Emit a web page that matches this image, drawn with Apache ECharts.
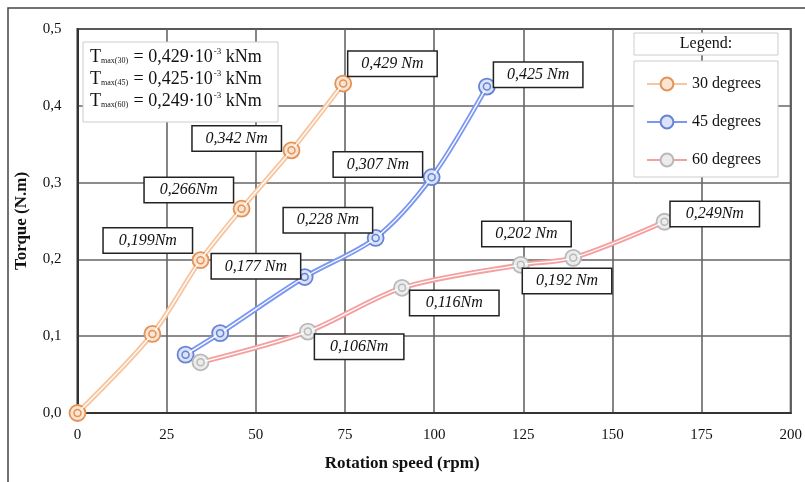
<!DOCTYPE html>
<html>
<head>
<meta charset="utf-8">
<script src="https://cdn.jsdelivr.net/npm/echarts@6/dist/echarts.min.js"></script>
<style>html,body{margin:0;padding:0;background:#fff}#c{width:805px;height:482px}</style>
</head>
<body>
<div id="c"></div>
<script>
// ---- data ----
const seriesNames = ['30 degrees', '45 degrees', '60 degrees'];
const speed30 = [0, 21, 34.5, 46, 60, 74.5];
const torque30 = [0, 0.103, 0.199, 0.266, 0.342, 0.429];
const speed45 = [30.3, 40, 63.7, 83.6, 99.3, 114.8];
const torque45 = [0.076, 0.104, 0.177, 0.228, 0.307, 0.425];
const speed60 = [34.5, 64.6, 91, 124.3, 139, 164.6];
const torque60 = [0.066, 0.106, 0.163, 0.193, 0.202, 0.249];
const labels30 = ['', '', '0,199Nm', '0,266Nm', '0,342 Nm', '0,429 Nm'];
const labels45 = ['', '', '0,177 Nm', '0,228 Nm', '0,307 Nm', '0,425 Nm'];
const labels60 = ['', '0,106Nm', '0,116Nm', '0,192 Nm', '0,202 Nm', '0,249Nm'];
const xTicks = [0, 25, 50, 75, 100, 125, 150, 175, 200];
const yTicks = [0, 0.1, 0.2, 0.3, 0.4, 0.5];
const noteSubs = ['max(30)', 'max(45)', 'max(60)'];
const noteValues = ['0,429', '0,425', '0,249'];
const legendTitle = 'Legend:';

// ---- layout / style (not data) ----
const offsets30 = [null, null, [-52, -19], [-52, -18], [-54, -11], [50, -19]];
const offsets45 = [null, null, [-48, -10], [-47, -17], [-53, -12], [52, -11]];
const offsets60 = [null, [52, 16], [53, 16], [47, 17], [-46, -23], [51, -7]];
const SERIF = '"Liberation Serif", "DejaVu Serif", serif';
const INNER = 7;

const styles = [
  {line: '#f7c6a0', ring: '#e39356', fill: '#fbe4d2'},
  {line: '#7b97f2', ring: '#6683d6', fill: '#dbe3f8'},
  {line: '#f4a0a0', ring: '#b9b9b9', fill: '#ececec'}
];

function pts(xs, ys) { return xs.map((x, i) => [x, ys[i]]); }
function labeled(xs, ys, labels, offs) {
  return xs.map((x, i) => {
    const d = {value: [x, ys[i]]};
    if (labels[i]) {
      d.label = {
        show: true, position: [INNER / 2 + offs[i][0], INNER / 2 + offs[i][1]], formatter: labels[i],
        fontFamily: SERIF, fontStyle: 'italic', fontSize: 16, color: '#111',
        backgroundColor: '#fff', borderColor: '#222', borderWidth: 1.5,
        width: 70, height: 16, lineHeight: 16, align: 'center', verticalAlign: 'middle',
        padding: [4, 9]
      };
    } else {
      d.label = {show: false};
    }
    return d;
  });
}

const groups = [
  [speed30, torque30, labels30, offsets30],
  [speed45, torque45, labels45, offsets45],
  [speed60, torque60, labels60, offsets60]
];

const series = [];
groups.forEach((g, k) => {
  const st = styles[k];
  series.push({
    name: seriesNames[k], type: 'line', smooth: 0.3, z: 2,
    data: pts(g[0], g[1]),
    symbol: 'circle', symbolSize: 16,
    lineStyle: {color: st.line, width: 5},
    itemStyle: {color: st.fill, borderColor: st.ring, borderWidth: 1.8},
    label: {show: false},
    emphasis: {disabled: true}, silent: true
  });
});
groups.forEach((g, k) => {
  const st = styles[k];
  series.push({
    name: seriesNames[k] + ' inner', type: 'line', smooth: 0.3, z: 4,
    data: labeled(g[0], g[1], g[2], g[3]),
    symbol: 'circle', symbolSize: INNER,
    lineStyle: {color: '#ffffff', width: 1.3},
    itemStyle: {color: st.fill, borderColor: st.ring, borderWidth: 1.5},
    emphasis: {disabled: true}, silent: true,
    labelLayout: {hideOverlap: false}
  });
});

function noteLine(i) {
  return '{t|T}{sub|' + noteSubs[i] + '}{t| = ' + noteValues[i] + '·10}{sup|-3}{t| kNm}';
}

const chart = echarts.init(document.getElementById('c'), null, {renderer: 'canvas'});
chart.setOption({
  animation: false,
  backgroundColor: '#fff',
  grid: {left: 77.5, right: 8, top: 29, bottom: 69, show: true, borderColor: '#333', borderWidth: 2, containLabel: false},
  xAxis: {
    type: 'value', min: xTicks[0], max: xTicks[xTicks.length - 1], interval: xTicks[1] - xTicks[0],
    name: 'Rotation speed (rpm)', nameLocation: 'middle', nameGap: 42,
    nameTextStyle: {fontFamily: SERIF, fontWeight: 'bold', fontSize: 17, color: '#111', padding: [0, 64, 0, 0]},
    axisLine: {show: true, lineStyle: {color: '#333', width: 2}},
    axisTick: {show: false},
    axisLabel: {fontFamily: SERIF, fontSize: 15, color: '#111', margin: 15},
    splitLine: {show: true, lineStyle: {color: '#666', width: 1.6}}
  },
  yAxis: {
    type: 'value', min: yTicks[0], max: yTicks[yTicks.length - 1], interval: 0.1,
    name: 'Torque (N.m)', nameLocation: 'middle', nameGap: 47,
    nameTextStyle: {fontFamily: SERIF, fontWeight: 'bold', fontSize: 17, color: '#111'},
    axisLine: {show: true, lineStyle: {color: '#333', width: 2}},
    axisTick: {show: false},
    axisLabel: {fontFamily: SERIF, fontSize: 15, color: '#111', margin: 16,
      formatter: v => v.toFixed(1).replace('.', ',')},
    splitLine: {show: true, lineStyle: {color: '#666', width: 1.6}}
  },
  legend: {
    data: seriesNames, orient: 'vertical', left: 641, top: 71, z: 10,
    itemWidth: 40, itemHeight: 16, itemGap: 22,
    textStyle: {fontFamily: SERIF, fontSize: 16, color: '#111'}
  },
  graphic: [
    {type: 'rect', z: 0, silent: true, shape: {x: 8, y: 8, width: 830, height: 520},
      style: {fill: 'none', stroke: '#444', lineWidth: 1.5}},
    {type: 'rect', z: 5, silent: true, shape: {x: 634, y: 33, width: 144, height: 22},
      style: {fill: '#fff', stroke: '#ccc', lineWidth: 1}},
    {type: 'text', z: 6, silent: true, x: 706, y: 44,
      style: {text: legendTitle, fontFamily: SERIF, fontSize: 16, fill: '#111', align: 'center', verticalAlign: 'middle'}},
    {type: 'rect', z: 5, silent: true, shape: {x: 634, y: 61, width: 144, height: 116},
      style: {fill: '#fff', stroke: '#ccc', lineWidth: 1}},
    {type: 'rect', z: 5, silent: true, shape: {x: 83, y: 42, width: 195, height: 80},
      style: {fill: '#fff', stroke: '#ccc', lineWidth: 1}},
    ...[0, 1, 2].map(i => ({
      type: 'text', z: 6, silent: true, x: 90, y: 57 + i * 22,
      style: {
        text: noteLine(i), verticalAlign: 'middle', fill: '#111',
        rich: {
          t: {fontFamily: SERIF, fontSize: 18, color: '#111', lineHeight: 20, verticalAlign: 'middle'},
          sub: {fontFamily: SERIF, fontSize: 8, color: '#777', lineHeight: 20, verticalAlign: 'bottom', padding: [0, 1, 2, 0]},
          sup: {fontFamily: SERIF, fontSize: 9, color: '#111', lineHeight: 20, verticalAlign: 'top', padding: [0, 0, 0, 1]}
        }
      }
    }))
  ],
  series: series
});
</script>
</body>
</html>
